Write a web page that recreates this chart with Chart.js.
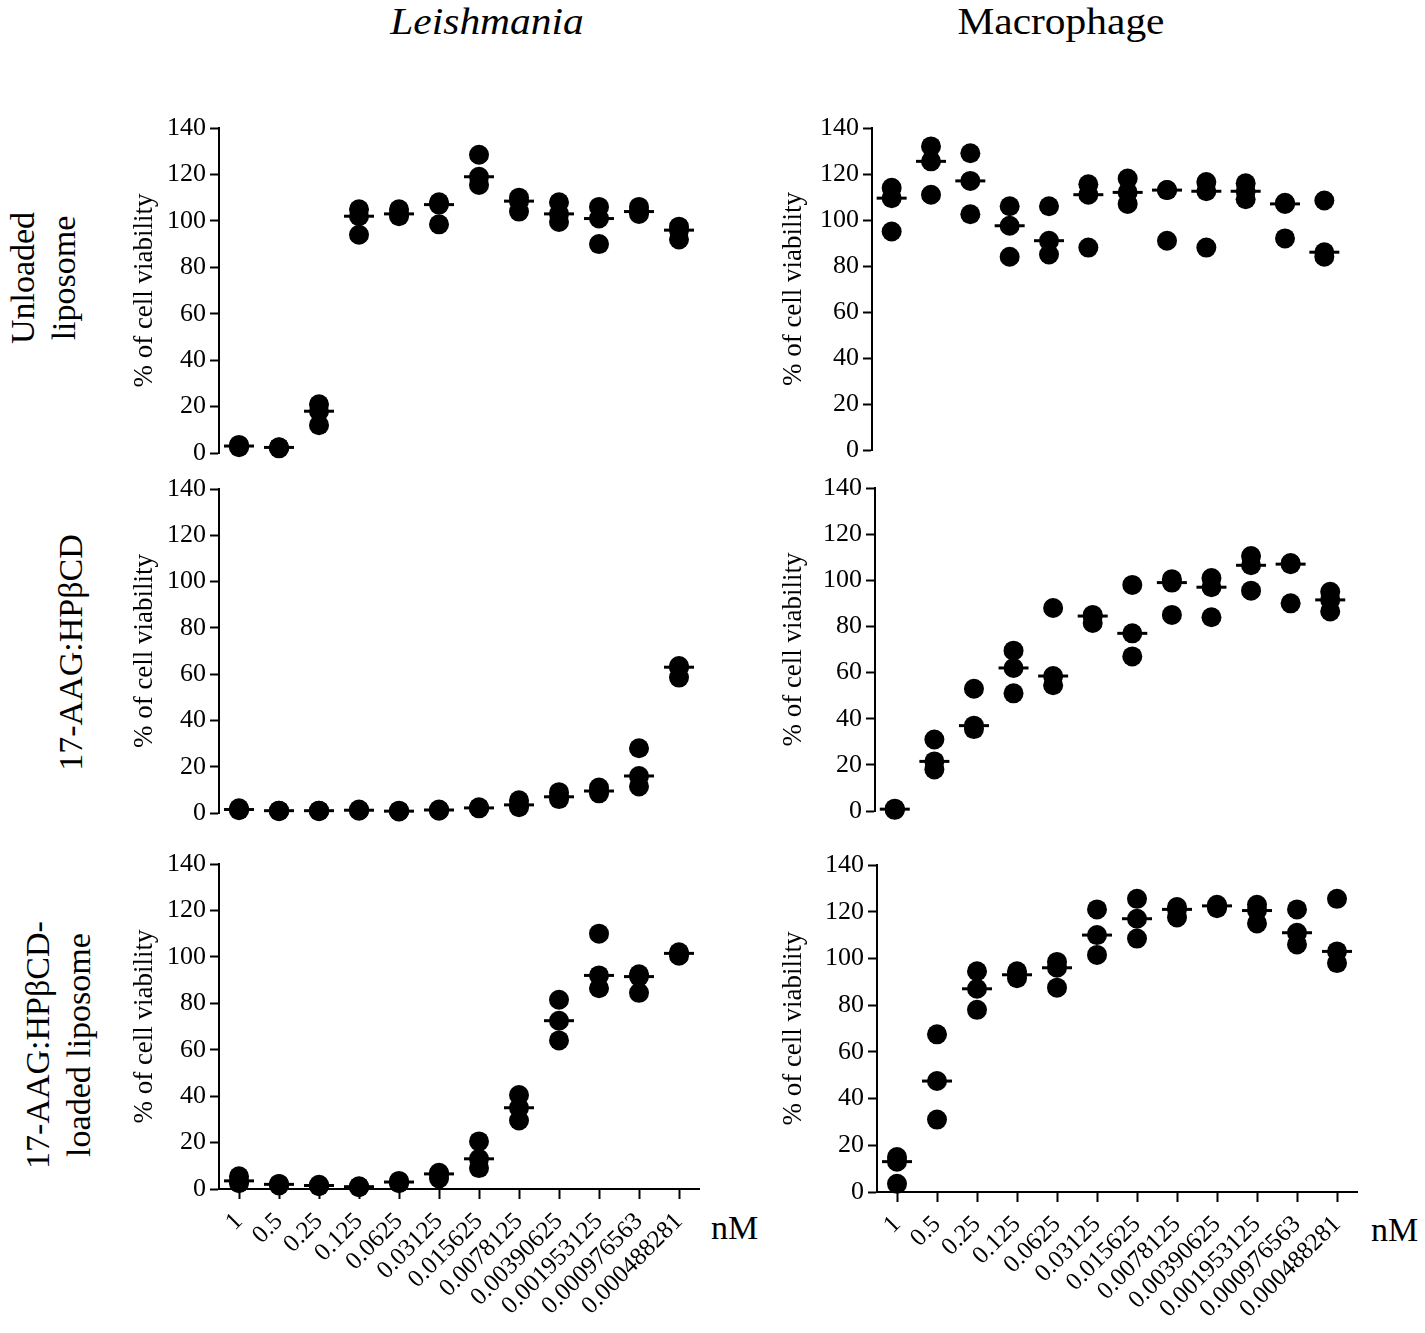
<!DOCTYPE html>
<html>
<head>
<meta charset="utf-8">
<script src="https://cdn.jsdelivr.net/npm/chart.js@4.4.1/dist/chart.umd.min.js"></script>
<style>
body { margin: 0; background: #fff; width: 1425px; height: 1333px; position: relative; overflow: hidden;
       font-family: "Liberation Serif", "Times New Roman", serif; color: #000; }
canvas { position: absolute; }
.lbl { position: absolute; white-space: nowrap; }
.ttl { position: absolute; width: 300px; text-align: center; top: -1px; font-size: 38px; line-height: 44px;
       transform: scaleX(1.09); white-space: nowrap; }
.rot { position: absolute; width: 300px; text-align: center; transform: rotate(-90deg);
       font-size: 34px; line-height: 41px; white-space: nowrap; }
</style>
</head>
<body>
<div class="ttl" style="left:337px;font-style:italic">Leishmania</div>
<div class="ttl" style="left:911px">Macrophage</div>

<div class="rot" style="left:-107px;top:237px;height:82px">Unloaded<br>liposome</div>
<div class="rot" style="left:-80px;top:632px;height:41px">17-AAG:HPβCD</div>
<div class="rot" style="left:-92px;top:1004px;height:82px">17-AAG:HPβCD-<br>loaded liposome</div>

<div class="lbl" style="left:711px;top:1208px;font-size:34px;line-height:40px">nM</div>
<div class="lbl" style="left:1371px;top:1210px;font-size:34px;line-height:40px">nM</div>

<canvas id="tl"></canvas>
<canvas id="tr"></canvas>
<canvas id="ml"></canvas>
<canvas id="mr"></canvas>
<canvas id="bl"></canvas>
<canvas id="br"></canvas>

<script>
const FONT = '"Liberation Serif", "Times New Roman", serif';

// Konzentrationen (nM) und y-Ticks
const concentrations = ["1", "0.5", "0.25", "0.125", "0.0625", "0.03125", "0.015625",
    "0.0078125", "0.00390625", "0.001953125", "0.000976563", "0.000488281"];
const yTicks = [0, 20, 40, 60, 80, 100, 120, 140];

// Drei Replikate pro Konzentration (% Viabilität)
const leishUnloaded = [[3.5, 3, 2.5], [2.5, 2.4, 2], [21, 18, 12], [105, 102, 94], [105, 103, 102],
    [108, 107, 98.5], [128.5, 119, 115.5], [110, 108.5, 104], [108, 103, 99.5], [106, 101, 90],
    [106, 104, 103], [97.5, 96, 92]];
const macroUnloaded = [[114, 109.5, 95], [132, 125.5, 111], [129, 117, 102.5], [106, 97.5, 84],
    [106, 91, 85], [115.5, 111, 88], [118, 112, 107], [113, 113, 91], [116.5, 112.5, 88],
    [116, 112.5, 109], [107.5, 107, 92], [108.5, 86, 84]];
const leishFree = [[2, 1.5, 1.2], [1, 1, 0.8], [1, 1, 0.8], [1.5, 1.2, 1], [1, 0.8, 0.7],
    [1.5, 1.3, 1], [2.5, 2.2, 2], [5.5, 3.5, 2.5], [9, 7, 6], [11, 9.5, 8.5], [28, 16, 11.5],
    [63.5, 63, 58.5]];
const macroFree = [[1, 0.8, 0.5], [31, 21.5, 18], [53, 37, 35.5], [69.5, 62, 51], [88, 58.5, 54.5],
    [85, 84.5, 81.5], [98, 77, 67], [100.5, 99, 85], [101, 97, 84], [110.5, 106.5, 95.5],
    [107.5, 107, 90], [95, 91.5, 86.5]];
const leishLipo = [[5.5, 3.5, 2.5], [2.2, 2, 1.5], [1.8, 1.5, 1.2], [1.2, 1, 0.8], [3.5, 3, 2.5],
    [7, 6.5, 4.5], [20.5, 13, 9], [40.5, 35, 29.5], [81.5, 72.5, 64], [110, 92, 86.5],
    [92.5, 91.5, 84.5], [102, 101.5, 100.5]];
const macroLipo = [[15, 13, 3.5], [67.5, 47.5, 31], [94.5, 87, 78], [94.5, 93, 91.5],
    [98.5, 96, 87.5], [121, 110, 101.5], [125.5, 117, 108.5], [122, 121, 117.5],
    [123, 122.5, 121.5], [123, 120.5, 115], [121, 111, 106], [125.5, 103, 98]];

function median(t) {
    const s = [...t].sort((a, b) => a - b);
    return s[1];
}

// Ein Panel zeichnen (Geometrie in Pixeln der Seite)
function makePanel(id, triplets, g) {
    const padTop = 20, padRight = 12;
    const xHeight = g.showX ? 140 : 20;
    const canvas = document.getElementById(id);
    canvas.width = g.right - g.left + padRight;
    canvas.height = padTop + (g.bottom - g.top) + xHeight;
    canvas.style.left = g.left + "px";
    canvas.style.top = (g.top - padTop) + "px";

    const datasets = [{
        data: triplets.map(median),
        pointStyle: "line",
        pointRadius: 15,
        pointBorderWidth: 3,
        pointBorderColor: "#000",
        order: 0
    }];
    for (let r = 0; r < 3; r++) {
        datasets.push({
            data: triplets.map(t => t[r]),
            pointStyle: "circle",
            pointRadius: 10,
            pointBackgroundColor: "#000",
            pointBorderWidth: 0,
            order: 1
        });
    }
    datasets.forEach(d => { d.showLine = false; d.clip = false; });

    const xScale = g.showX ? {
        offset: true,
        afterFit: s => { s.height = 140; s.paddingLeft = 0; s.paddingRight = 0; },
        border: { display: true, color: "#000", width: 2 },
        grid: { display: true, drawOnChartArea: false, drawTicks: true, tickLength: 10,
                tickWidth: 2, tickColor: "#000", offset: false },
        ticks: { color: "#000", font: { family: FONT, size: 25 }, maxRotation: 45,
                 minRotation: 45, padding: 8, autoSkip: false }
    } : {
        display: false,
        offset: true,
        afterFit: s => { s.paddingLeft = 0; s.paddingRight = 0; }
    };

    new Chart(canvas, {
        type: "line",
        data: { labels: concentrations, datasets: datasets },
        options: {
            responsive: false,
            animation: false,
            events: [],
            layout: { padding: { top: padTop, right: padRight, bottom: g.showX ? 0 : 20, left: 0 } },
            plugins: { legend: { display: false }, tooltip: { enabled: false } },
            scales: {
                x: xScale,
                y: {
                    min: 0,
                    max: 140,
                    afterBuildTicks: s => { s.ticks = yTicks.map(v => ({ value: v })); },
                    afterFit: s => { s.width = g.axisX - g.left; s.paddingTop = 0; s.paddingBottom = 0; },
                    border: { display: true, color: "#000", width: 2 },
                    grid: { display: true, drawOnChartArea: false, drawTicks: true, tickLength: 9,
                            tickWidth: 2, tickColor: "#000" },
                    ticks: { color: "#000", font: { family: FONT, size: 26 }, padding: 4 },
                    title: { display: true, text: "% of cell viability", color: "#000",
                             font: { family: FONT, size: 27 },
                             padding: { top: g.titleX - g.left - 16.2, bottom: 0 } }
                }
            }
        }
    });
}

makePanel("tl", leishUnloaded, { left: 110, axisX: 219, right: 705, top: 128, bottom: 453, showX: false, titleX: 145 });
makePanel("ml", leishFree,     { left: 110, axisX: 219, right: 705, top: 489, bottom: 813, showX: false, titleX: 145 });
makePanel("bl", leishLipo,     { left: 110, axisX: 219, right: 705, top: 864, bottom: 1189, showX: true, titleX: 145 });
makePanel("tr", macroUnloaded, { left: 760, axisX: 872, right: 1350, top: 128, bottom: 450, showX: false, titleX: 794 });
makePanel("mr", macroFree,     { left: 760, axisX: 875, right: 1356, top: 488, bottom: 811, showX: false, titleX: 794 });
makePanel("br", macroLipo,     { left: 760, axisX: 877, right: 1363, top: 865, bottom: 1192, showX: true, titleX: 794 });
</script>
</body>
</html>
